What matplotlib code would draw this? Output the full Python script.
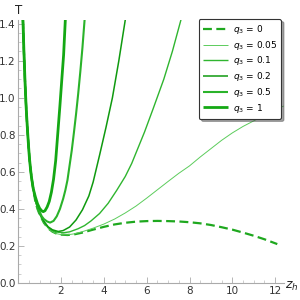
import matplotlib
matplotlib.use("Agg")
import matplotlib.pyplot as plt
import numpy as np

# shared steep left branch (small z_h)
left_z = [0.22, 0.27, 0.32, 0.37, 0.42, 0.47, 0.52, 0.57, 0.62, 0.70]
left_T = [1.42, 1.24, 1.08, 0.95, 0.85, 0.76, 0.68, 0.62, 0.57, 0.51]

# q3 = 0 (dashed)
q0_z = [0.8, 0.9, 1.0, 1.2, 1.4, 1.6, 1.8, 2.0, 2.3, 2.6, 3.0, 3.5, 4.0, 4.5, 5.0,
        5.5, 6.0, 6.5, 7.0, 7.5, 8.0, 8.5, 9.0, 9.5, 10.0, 10.5, 11.0, 11.5, 12.1]
q0_T = [0.44, 0.40, 0.37, 0.325, 0.295, 0.277, 0.266, 0.261, 0.259, 0.262, 0.272, 0.288,
        0.303, 0.316, 0.325, 0.331, 0.334, 0.335, 0.334, 0.332, 0.328, 0.322, 0.313,
        0.301, 0.288, 0.272, 0.255, 0.236, 0.21]

# q3 = 0.05
q005_z = [0.8, 0.9, 1.0, 1.2, 1.4, 1.6, 1.8, 2.0, 2.3, 2.6, 3.0, 3.5, 4.0, 4.5, 5.0,
          5.5, 6.0, 6.5, 7.0, 7.5, 8.0, 8.5, 9.0, 9.5, 10.0, 10.5, 11.0, 11.5, 12.0, 12.4]
q005_T = [0.44, 0.40, 0.37, 0.325, 0.295, 0.277, 0.266, 0.261, 0.26, 0.265, 0.277, 0.296,
          0.318, 0.345, 0.378, 0.415, 0.458, 0.503, 0.548, 0.592, 0.632, 0.68, 0.725,
          0.77, 0.81, 0.845, 0.875, 0.905, 0.935, 0.955]

# q3 = 0.1
q01_z = [0.8, 0.9, 1.0, 1.2, 1.4, 1.6, 1.8, 2.1, 2.4, 2.8, 3.1, 3.4, 3.8, 4.2, 4.6,
         5.0, 5.3, 5.6, 5.9, 6.3, 6.8, 7.2, 7.6]
q01_T = [0.445, 0.405, 0.372, 0.328, 0.300, 0.284, 0.275, 0.271, 0.276, 0.293, 0.31,
         0.335, 0.375, 0.43, 0.50, 0.575, 0.645, 0.73, 0.815, 0.94, 1.10, 1.25, 1.42]

# q3 = 0.2
q02_z = [0.8, 0.9, 1.0, 1.2, 1.4, 1.6, 1.87, 2.1, 2.4, 2.7, 3.0, 3.3, 3.5, 3.8, 4.1,
         4.4, 4.7, 5.0]
q02_T = [0.45, 0.41, 0.378, 0.333, 0.303, 0.287, 0.278, 0.283, 0.302, 0.34, 0.395,
         0.47, 0.545, 0.69, 0.84, 1.0, 1.2, 1.42]

# q3 = 0.5
q05_z = [0.8, 0.9, 1.0, 1.1, 1.2, 1.35, 1.49, 1.65, 1.8, 1.95, 2.1, 2.2, 2.3, 2.4,
         2.5, 2.6, 2.7, 2.8, 2.9, 3.0, 3.1]
q05_T = [0.455, 0.415, 0.385, 0.36, 0.345, 0.332, 0.326, 0.335, 0.36, 0.40, 0.455,
         0.50, 0.555, 0.635, 0.715, 0.81, 0.91, 1.02, 1.14, 1.27, 1.42]

# q3 = 1
q1_z = [0.8, 0.9, 1.0, 1.1, 1.17, 1.25, 1.35, 1.45, 1.55, 1.65, 1.75, 1.85, 1.95,
        2.05, 2.12, 2.2]
q1_T = [0.465, 0.428, 0.403, 0.389, 0.385, 0.39, 0.41, 0.44, 0.49, 0.56, 0.66, 0.81,
        0.96, 1.12, 1.23, 1.42]

labels = ["0", "0.05", "0.1", "0.2", "0.5", "1"]

fig = plt.figure(figsize=(3, 3), dpi=100)
ax = fig.add_axes([0.0607, 0.0567, 0.885, 0.877])

series = [(q0_z, q0_T), (q005_z, q005_T), (q01_z, q01_T),
          (q02_z, q02_T), (q05_z, q05_T), (q1_z, q1_T)]
styles = [dict(color="#1fa81f", lw=1.6, dashes=(4, 2)),
          dict(color="#5ccc5c", lw=0.7),
          dict(color="#2fb52f", lw=1.0),
          dict(color="#0f9a0f", lw=1.1),
          dict(color="#2ab32a", lw=1.5),
          dict(color="#14a814", lw=2.0)]

for (z, T), st, lab in zip(series, styles, labels):
    ax.plot(left_z + z, left_T + T, label=r"$q_3$ = " + lab,
            solid_capstyle="butt", clip_on=True, **st)

ax.set_xlim(0, 12.4)
ax.set_ylim(0, 1.42)
for s in ["top", "right"]:
    ax.spines[s].set_visible(False)
for s in ["left", "bottom"]:
    ax.spines[s].set_color("#aaaaaa")
    ax.spines[s].set_linewidth(0.8)

ax.set_xticks([2, 4, 6, 8, 10, 12])
ax.set_xticks(np.arange(0.5, 12.4, 0.5), minor=True)
ax.set_yticks([0.0, 0.2, 0.4, 0.6, 0.8, 1.0, 1.2, 1.4])
ax.set_yticklabels(["0.0", "0.2", "0.4", "0.6", "0.8", "1.0", "1.2", "1.4"])
ax.set_yticks(np.arange(0.05, 1.42, 0.05), minor=True)
ax.tick_params(which="major", direction="in", length=4, width=0.6, color="#aaaaaa",
               labelsize=7.5, labelcolor="#333333", pad=2)
ax.tick_params(which="minor", direction="in", length=2, width=0.5, color="#bbbbbb")

fig.text(0.063, 0.965, "T", fontsize=8.5, ha="center", va="center", color="#222222")
fig.text(0.973, 0.045, r"$z_h$", fontsize=9, ha="center", va="center", color="#222222")

leg = fig.legend(loc="upper right", bbox_to_anchor=(0.937, 0.937), fontsize=6.5,
                 handlelength=2.8, frameon=True, fancybox=True, shadow=True,
                 framealpha=1, edgecolor="#333333", borderpad=0.45, labelspacing=0.3,
                 handletextpad=0.5, borderaxespad=0)
leg.get_frame().set_linewidth(0.8)
leg.set_zorder(10)

fig.savefig("out.png", dpi=100)
